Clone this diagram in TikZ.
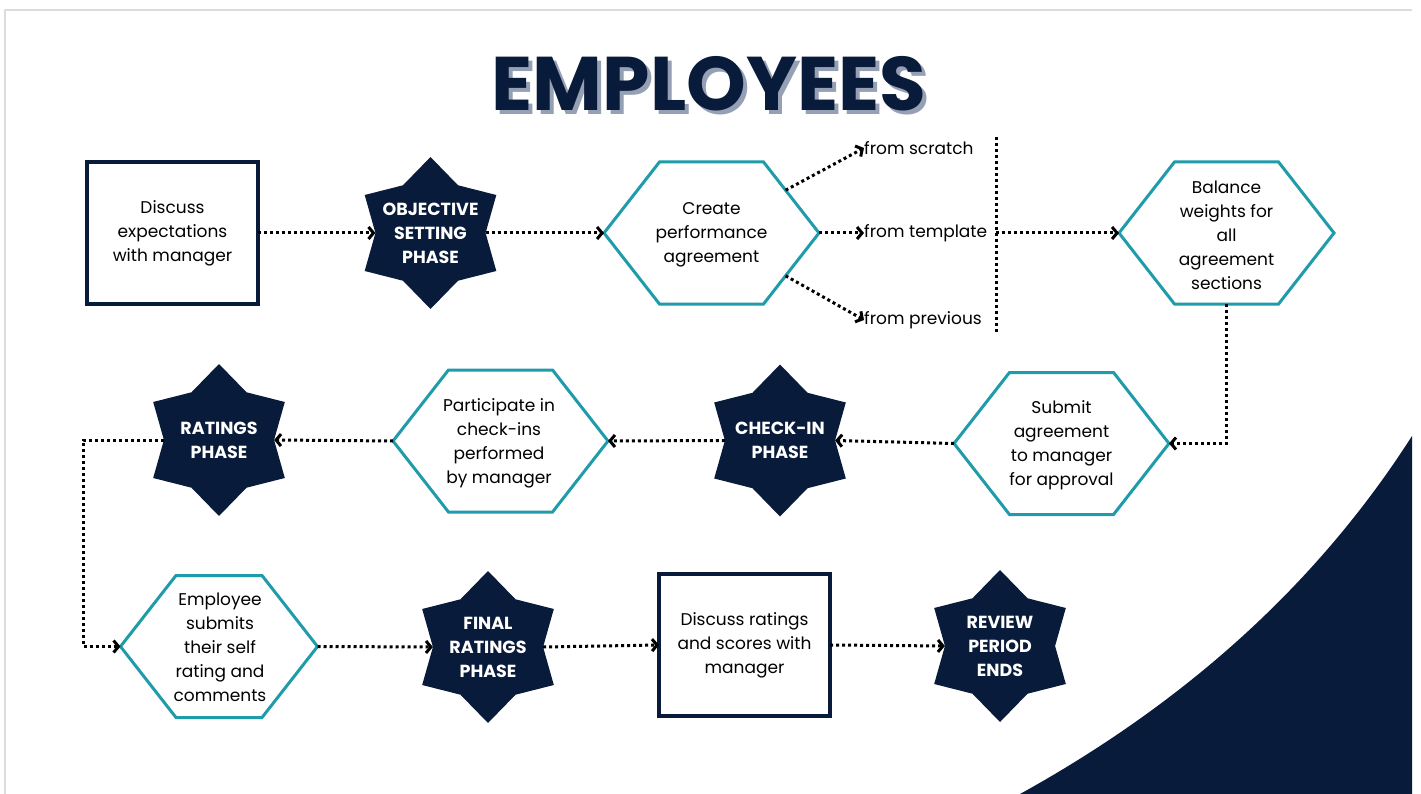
\documentclass[tikz,border=0pt]{standalone}
\usepackage{fontspec}
\setmainfont{Poppins}
\usetikzlibrary{shapes.geometric,shapes.symbols,arrows.meta}
\definecolor{navy}{RGB}{9,27,58}
\definecolor{hexteal}{RGB}{31,155,170}
\definecolor{shadowgray}{RGB}{150,160,180}
\definecolor{framegray}{RGB}{220,220,220}

\begin{document}
\begin{tikzpicture}[x=1pt,y=-1pt,
    flow/.style={black,line width=3pt,dash pattern=on 3pt off 3pt,
        -{Straight Barb[length=5pt,width=12pt]}},
    bracket/.style={black,line width=3pt,dash pattern=on 3pt off 3pt},
    words/.style={align=center,inner sep=0pt,font=\fontsize{17}{24}\selectfont},
    boxnode/.style={draw=navy,line width=3.2pt,minimum width=171pt,
        minimum height=142pt,inner sep=0pt,outer sep=0pt},
    hexnode/.style={shape=signal,signal to=east and west,signal pointer angle=104,
        draw=hexteal,line width=3pt,minimum width=215pt,minimum height=142pt,
        inner sep=0pt,outer sep=0pt},
    starnode/.style={shape=star,star points=6,star point ratio=1.38,fill=navy,
        minimum size=152pt,inner sep=0pt,outer sep=0pt},
    startext/.style={align=center,text=white,inner sep=0pt,
        font=\fontsize{17.5}{24}\selectfont\bfseries},
    option/.style={anchor=west,inner sep=0pt,font=\fontsize{17}{24}\selectfont},
    titletext/.style={inner sep=0pt,font=\fontsize{76}{84}\selectfont\bfseries}
    ]
\useasboundingbox (0,0) rectangle (1421,794);
\fill[white] (0,0) rectangle (1421,794);
% slide frame and corner swoosh
\draw[framegray,line width=1.5pt] (5,794) -- (5,10) -- (1412,10);
\fill[navy] (1020,794) .. controls (1190,700) and (1320,580) .. (1412,436)
    -- (1412,794) -- cycle;
% title
\node[titletext,text=shadowgray] (titleshade) at (713,88) {EMPLOYEES};
\node[titletext,text=navy] (title) at (709,84) {EMPLOYEES};
% first row
\node[boxnode,words] (r1) at (172.5,233) {Discuss\\expectations\\with manager};
\node[starnode] (s1) at (430.5,233) {};
\node[startext] (s1t) at (s1) {OBJECTIVE\\SETTING\\PHASE};
\node[hexnode] (h1) at (711.5,233) {};
\node[words] (h1t) at (711.5,235) {Create\\performance\\agreement};
\node[option] (scratch) at (864,148) {from scratch};
\node[option] (tmpl) at (864,233) {from template};
\node[option] (prev) at (864,320) {from previous};
\coordinate (top) at (996,137);
\coordinate (mid) at (996,233);
\coordinate (bot) at (996,332);
\node[hexnode] (h2) at (1226.5,233) {};
\node[words] (h2t) at (1226.5,235) {Balance\\weights for\\all\\agreement\\sections};
% second row
\node[hexnode] (h3) at (1061.5,443.5) {};
\node[words] (h3t) at (1061.5,445) {Submit\\agreement\\to manager\\for approval};
\node[starnode] (s2) at (780,440.5) {};
\node[startext] (s2t) at (s2) {CHECK-IN\\PHASE};
\node[hexnode] (h4) at (500.5,441) {};
\node[words] (h4t) at (499,443) {Participate in\\check-ins\\performed\\by manager};
\node[starnode] (s3) at (219,440) {};
\node[startext] (s3t) at (s3) {RATINGS\\PHASE};
\coordinate (bend) at (83,440);
% third row
\node[hexnode,minimum width=197pt] (h5) at (219,646.5) {};
\node[words] (h5t) at (220,647) {Employee\\submits\\their self\\rating and\\comments};
\node[starnode] (s4) at (488,647) {};
\node[startext] (s4t) at (s4) {FINAL\\RATINGS\\PHASE};
\node[boxnode,words] (r2) at (744.5,645) {Discuss ratings\\and scores with\\manager};
\node[starnode] (s5) at (1000,646) {};
\node[startext] (s5t) at (s5) {REVIEW\\PERIOD\\ENDS};
% connectors
\foreach \a/\b in {r1.east/s1.west, s1.east/h1.west, h1.30/scratch.west,
    h1.east/tmpl.west, h1.-30/prev.west, mid/h2.west, h3.west/s2.east,
    s2.west/h4.east, h4.west/s3.east, h5.east/s4.west, s4.east/r2.west,
    r2.east/s5.west}
    \draw[flow] (\a) -- (\b);
\draw[bracket] (top) -- (bot);
\draw[flow] (h2.south) |- (h3.east);
\draw[flow] (s3.west) -- (bend) |- (h5.west);
\end{tikzpicture}
\end{document}
